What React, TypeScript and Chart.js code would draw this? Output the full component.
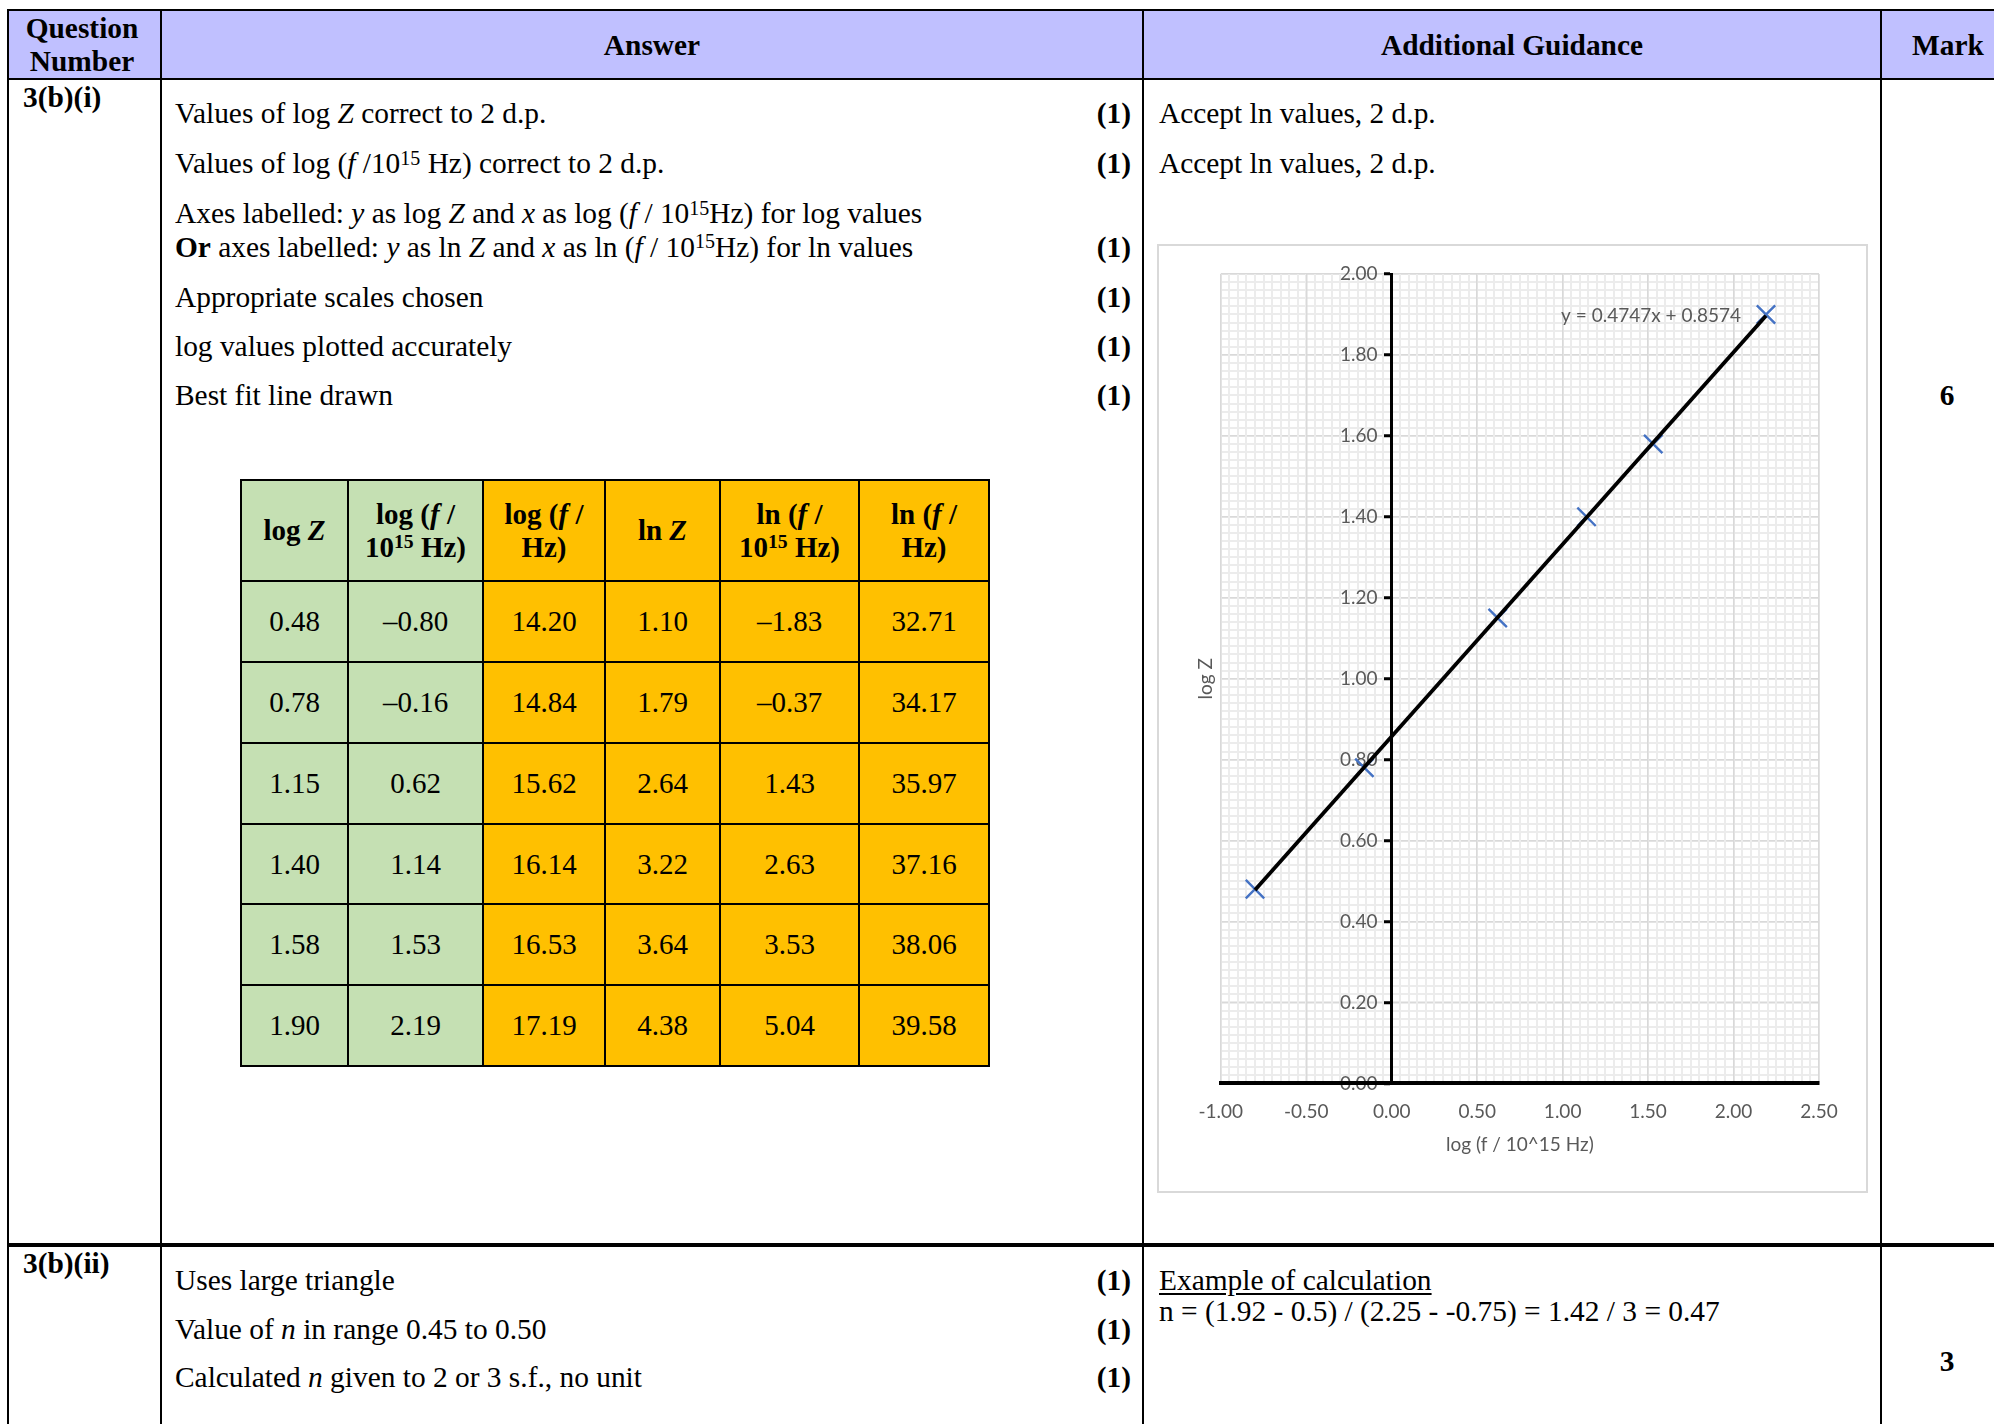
import React, { useEffect, useRef } from 'react';
import { Chart, registerables } from 'chart.js';

Chart.register(...registerables);

// ---------------- data ----------------
const logZ = [0.48, 0.78, 1.15, 1.4, 1.58, 1.9];
const logF15 = [-0.8, -0.16, 0.62, 1.14, 1.53, 2.19];
const logF = [14.2, 14.84, 15.62, 16.14, 16.53, 17.19];
const lnZ = [1.1, 1.79, 2.64, 3.22, 3.64, 4.38];
const lnF15 = [-1.83, -0.37, 1.43, 2.63, 3.53, 5.04];
const lnF = [32.71, 34.17, 35.97, 37.16, 38.06, 39.58];
const trendSlope = 0.4747;
const trendIntercept = 0.8574;
const xRange = [-1, 2.5];
const yRange = [0, 2];
const xMajorStep = 0.5;
const xMinorStep = 0.05;
const yMajorStep = 0.2;
const yMinorStep = 0.02;
const xTitle = 'log (f / 10^15 Hz)';
const yTitle = 'log Z';

// ---------------- style constants ----------------
const serif = '"Liberation Serif", "Times New Roman", Times, serif';
const FS = 29.4;
const GRAY = '#595959';
const GREEN = '#C5E0B3';
const AMBER = '#FFC000';
const HEAD = '#C0C0FF';

function LogChart() {
  const ref = useRef<HTMLCanvasElement>(null);
  useEffect(() => {
    const canvas = ref.current!;
    const font = { family: 'Lato', size: 19 };
    const trendLabel = {
      id: 'trendLabel',
      afterDatasetsDraw(chart: any) {
        const xs = chart.scales.x;
        const ys = chart.scales.y;
        const i = logF15.length - 1;
        const px = xs.getPixelForValue(logF15[i]);
        const py = ys.getPixelForValue(logZ[i]);
        const ctx = chart.ctx;
        ctx.save();
        ctx.font = '19px Lato';
        ctx.fillStyle = GRAY;
        ctx.textAlign = 'right';
        ctx.textBaseline = 'middle';
        ctx.fillText(`y = ${trendSlope}x + ${trendIntercept}`, px - 25, py + 1);
        ctx.restore();
      },
    };
    const x0 = logF15[0];
    const x1 = logF15[logF15.length - 1];
    const fmt = (v: any) => Number(v).toFixed(2);
    const chart = new Chart(canvas, {
      type: 'scatter',
      data: {
        datasets: [
          {
            type: 'line',
            label: 'Linear (log Z)',
            data: [
              { x: x0, y: trendSlope * x0 + trendIntercept },
              { x: x1, y: trendSlope * x1 + trendIntercept },
            ],
            borderColor: '#000',
            borderWidth: 3.8,
            pointRadius: 0,
            fill: false,
            order: 0,
            xAxisID: 'x',
            yAxisID: 'y',
          } as any,
          {
            type: 'scatter',
            label: 'log Z',
            data: logF15.map((x, i) => ({ x, y: logZ[i] })),
            pointStyle: 'crossRot',
            pointRadius: 13,
            pointHoverRadius: 13,
            borderColor: '#4472C4',
            backgroundColor: '#4472C4',
            borderWidth: 2.4,
            pointBorderWidth: 2.4,
            order: 1,
            xAxisID: 'x',
            yAxisID: 'y',
          } as any,
        ],
      },
      options: {
        responsive: false,
        animation: false,
        events: [],
        layout: { padding: { left: 31, right: 47, top: 28, bottom: 31 } },
        plugins: { legend: { display: false }, tooltip: { enabled: false } },
        scales: {
          xMinor: {
            type: 'linear',
            axis: 'x',
            position: 'top',
            min: xRange[0],
            max: xRange[1],
            ticks: { display: false, stepSize: xMinorStep, maxTicksLimit: 500 },
            grid: { color: '#ececec', lineWidth: 2, drawTicks: false, z: -2 },
            border: { display: false },
          },
          yMinor: {
            type: 'linear',
            axis: 'y',
            position: 'left',
            min: yRange[0],
            max: yRange[1],
            ticks: { display: false, stepSize: yMinorStep, maxTicksLimit: 500 },
            grid: { color: '#ececec', lineWidth: 2, drawTicks: false, z: -4 },
            border: { display: false },
            title: { display: true, text: yTitle, color: GRAY, font, padding: { top: 4, bottom: 4 } },
          },
          y: {
            type: 'linear',
            axis: 'y',
            position: { x: 0 },
            min: yRange[0],
            max: yRange[1],
            ticks: {
              stepSize: yMajorStep,
              color: GRAY,
              font,
              callback: (v: any) => fmt(v) + '\u2003',
            },
            grid: { color: '#d9d9d9', lineWidth: 1.5, tickColor: '#000', tickWidth: 3, tickLength: 6, z: -3 },
            border: { color: '#000', width: 3 },
          },
          x: {
            type: 'linear',
            axis: 'x',
            position: 'bottom',
            min: xRange[0],
            max: xRange[1],
            ticks: { stepSize: xMajorStep, color: GRAY, font, padding: 17, callback: fmt },
            grid: { color: '#d9d9d9', lineWidth: 1.5, drawTicks: false, z: -1 },
            border: { color: '#000', width: 4 },
            title: { display: true, text: xTitle, color: GRAY, font, padding: { top: -7, bottom: 4 } },
          },
        },
      } as any,
      plugins: [trendLabel],
    });
    return () => chart.destroy();
  }, []);
  return <canvas ref={ref} width={707} height={945} style={{ display: 'block' }} />;
}

type TP = {
  x: number;
  cy: number;
  align?: 'left' | 'center' | 'right';
  bold?: boolean;
  size?: number;
  lh?: number;
  underline?: boolean;
  children: React.ReactNode;
};
function T({ x, cy, align = 'left', bold = false, size = FS, lh = 34, underline, children }: TP) {
  const W = 900;
  const left = align === 'left' ? x : align === 'center' ? x - W / 2 : x - W;
  return (
    <div
      style={{
        position: 'absolute',
        left,
        top: cy - lh / 2,
        width: W,
        height: lh,
        lineHeight: lh + 'px',
        fontSize: size,
        fontWeight: bold ? 700 : 400,
        textAlign: align,
        whiteSpace: 'nowrap',
        textDecoration: underline ? 'underline' : undefined,
        textUnderlineOffset: underline ? '3px' : undefined,
      }}
    >
      {children}
    </div>
  );
}

const Sup = ({ c }: { c: string }) => (
  <span style={{ fontSize: '0.68em', position: 'relative', top: '-0.42em', lineHeight: 0 }}>{c}</span>
);

function Box({ x, y, w, h, bg }: { x: number; y: number; w: number; h: number; bg: string }) {
  return <div style={{ position: 'absolute', left: x, top: y, width: w, height: h, background: bg }} />;
}

const fmtT = (v: number) => (v < 0 ? '\u2013' : '') + Math.abs(v).toFixed(2);

const tColX = [241, 348, 483, 605, 720, 859, 989];
const tRowY = [480, 581, 662, 743, 824, 904, 985, 1066];
const tCols = [logZ, logF15, logF, lnZ, lnF15, lnF];
const tColBg = [GREEN, GREEN, AMBER, AMBER, AMBER, AMBER];
const tHeads: React.ReactNode[] = [
  <>log <i>Z</i></>,
  <>log (<i>f</i> /<br />10<Sup c="15" /> Hz)</>,
  <>log (<i>f</i> /<br />Hz)</>,
  <>ln <i>Z</i></>,
  <>ln (<i>f</i> /<br />10<Sup c="15" /> Hz)</>,
  <>ln (<i>f</i> /<br />Hz)</>,
];

function DataTable() {
  const cells: React.ReactNode[] = [];
  for (let c = 0; c < 6; c++) {
    const x = tColX[c];
    const w = tColX[c + 1] - x;
    cells.push(
      <div
        key={'h' + c}
        style={{
          position: 'absolute',
          left: x,
          top: tRowY[0],
          width: w,
          height: tRowY[1] - tRowY[0],
          background: tColBg[c],
          display: 'flex',
          alignItems: 'center',
          justifyContent: 'center',
          textAlign: 'center',
          fontWeight: 700,
          fontSize: 29,
          lineHeight: '32.6px',
        }}
      >
        <div>{tHeads[c]}</div>
      </div>
    );
    for (let r = 0; r < 6; r++) {
      cells.push(
        <div
          key={'c' + c + '_' + r}
          style={{
            position: 'absolute',
            left: x,
            top: tRowY[r + 1],
            width: w,
            height: tRowY[r + 2] - tRowY[r + 1],
            background: tColBg[c],
            display: 'flex',
            alignItems: 'center',
            justifyContent: 'center',
            fontSize: 29,
          }}
        >
          {fmtT(tCols[c][r])}
        </div>
      );
    }
  }
  const lines: React.ReactNode[] = [];
  tColX.forEach((x, i) =>
    lines.push(<Box key={'vl' + i} x={x - 1} y={tRowY[0] - 1} w={2} h={tRowY[7] - tRowY[0] + 2} bg="#000" />)
  );
  tRowY.forEach((y, i) =>
    lines.push(<Box key={'hl' + i} x={tColX[0] - 1} y={y - 1} w={tColX[6] - tColX[0] + 2} h={2} bg="#000" />)
  );
  return (
    <>
      {cells}
      {lines}
    </>
  );
}

export default function App() {
  const ansX = 175;
  const markR = 1131;
  const guideX = 1159;
  return (
    <div
      style={{
        position: 'fixed',
        left: 0,
        top: 0,
        width: 1994,
        height: 1424,
        overflow: 'hidden',
        background: '#fff',
        fontFamily: serif,
        color: '#000',
      }}
    >
      {/* header background */}
      <Box x={9} y={11} w={2000} h={67} bg={HEAD} />

      {/* main grid lines */}
      <Box x={7} y={9} w={2010} h={2} bg="#000" />
      <Box x={7} y={78} w={2010} h={2} bg="#000" />
      <Box x={7} y={1243} w={2010} h={4} bg="#000" />
      <Box x={7} y={9} w={2} h={1420} bg="#000" />
      <Box x={160} y={9} w={2} h={1420} bg="#000" />
      <Box x={1142} y={9} w={2} h={1420} bg="#000" />
      <Box x={1880} y={9} w={2} h={1420} bg="#000" />

      {/* header text */}
      <T x={82} cy={28} align="center" bold>Question</T>
      <T x={82} cy={61} align="center" bold>Number</T>
      <T x={652} cy={45} align="center" bold>Answer</T>
      <T x={1512} cy={45} align="center" bold>Additional Guidance</T>
      <T x={1948} cy={45} align="center" bold>Mark</T>

      {/* row 3(b)(i) */}
      <T x={23} cy={97} bold>3(b)(i)</T>
      <T x={ansX} cy={113}>Values of log <i>Z</i> correct to 2 d.p.</T>
      <T x={ansX} cy={163}>Values of log (<i>f</i> /10<Sup c="15" /> Hz) correct to 2 d.p.</T>
      <T x={ansX} cy={213}>
        Axes labelled: <i>y</i> as log <i>Z</i> and <i>x</i> as log (<i>f</i> / 10<Sup c="15" />Hz) for log values
      </T>
      <T x={ansX} cy={246.5}>
        <b>Or</b> axes labelled: <i>y</i> as ln <i>Z</i> and <i>x</i> as ln (<i>f</i> / 10<Sup c="15" />Hz) for ln values
      </T>
      <T x={ansX} cy={296.5}>Appropriate scales chosen</T>
      <T x={ansX} cy={345.5}>log values plotted accurately</T>
      <T x={ansX} cy={395}>Best fit line drawn</T>
      {[113, 163, 246.5, 296.5, 345.5, 395].map((cy) => (
        <T key={'m' + cy} x={markR} cy={cy} align="right" bold>(1)</T>
      ))}
      <T x={guideX} cy={113}>Accept ln values, 2 d.p.</T>
      <T x={guideX} cy={163}>Accept ln values, 2 d.p.</T>
      <T x={1947} cy={395} align="center" bold>6</T>

      <DataTable />

      <div
        style={{
          position: 'absolute',
          left: 1157,
          top: 244,
          width: 711,
          height: 949,
          boxSizing: 'border-box',
          border: '2px solid #d9d9d9',
          background: '#fff',
        }}
      >
        <LogChart />
      </div>

      {/* row 3(b)(ii) */}
      <T x={23} cy={1263} bold>3(b)(ii)</T>
      <T x={ansX} cy={1280}>Uses large triangle</T>
      <T x={ansX} cy={1329}>Value of <i>n</i> in range 0.45 to 0.50</T>
      <T x={ansX} cy={1377}>Calculated <i>n</i> given to 2 or 3 s.f., no unit</T>
      {[1280, 1329, 1377].map((cy) => (
        <T key={'m2' + cy} x={markR} cy={cy} align="right" bold>(1)</T>
      ))}
      <T x={guideX} cy={1280} underline>Example of calculation</T>
      <T x={guideX} cy={1311}>n = (1.92 - 0.5) / (2.25 - -0.75) = 1.42 / 3 = 0.47</T>
      <T x={1947} cy={1361} align="center" bold>3</T>
    </div>
  );
}
